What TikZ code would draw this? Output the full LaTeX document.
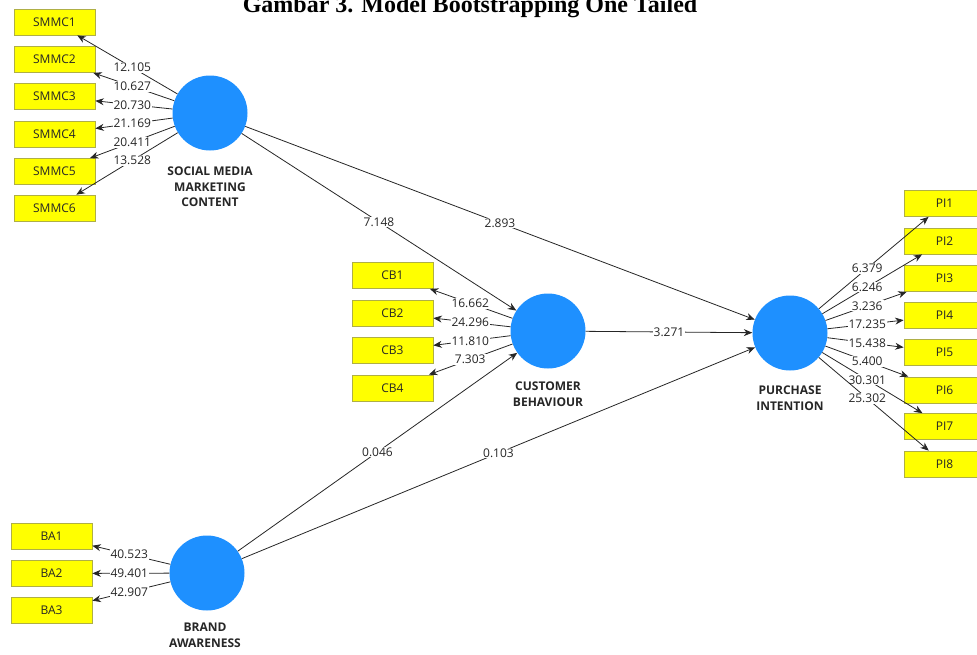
\documentclass[tikz,border=0pt]{standalone}
\usepackage{fontspec}
\setmainfont{Open Sans}
\newfontfamily\titlefont{Liberation Serif}
\usetikzlibrary{calc,arrows.meta}

\definecolor{lvblue}{RGB}{30,144,255}
\definecolor{indyellow}{RGB}{255,255,0}
\definecolor{indedge}{RGB}{175,175,70}

\begin{document}
\begin{tikzpicture}[x=1pt,y=-1pt,
  latent/.style={circle,fill=lvblue,minimum size=75pt,inner sep=0pt},
  indicator/.style={rectangle,fill=indyellow,draw=indedge,line width=0.7pt,
    minimum width=81pt,minimum height=26pt,inner sep=0pt,
    font=\fontsize{12}{12}\selectfont,text=black!85},
  lvname/.style={align=center,inner sep=0pt,anchor=north,
    font=\bfseries\fontsize{12}{15.5}\selectfont,text=black!85},
  link/.style={draw=black!85,line width=0.8pt,-{Stealth[length=8.5pt,width=7pt]}},
  coef/.style={fill=white,inner sep=1pt,font=\fontsize{12}{12}\selectfont,text=black!85},
]
\useasboundingbox (0,0) rectangle (977,654);

% caption
\node[anchor=base,font=\titlefont\bfseries\fontsize{24}{26}\selectfont] (title) at (470,12)
  {Gambar 3. Model Bootstrapping One Tailed};

% latent variables
\node[latent] (smmc) at (210,113) {};
\node[latent] (cb)   at (548,331) {};
\node[latent] (pi)   at (790,333) {};
\node[latent] (ba)   at (207,573) {};

\node[lvname] (smmcname) at (210,167) {SOCIAL MEDIA\\MARKETING\\CONTENT};
\node[lvname] (cbname)   at (548,382) {CUSTOMER\\BEHAVIOUR};
\node[lvname] (piname)   at (790,386) {PURCHASE\\INTENTION};
\node[lvname] (baname)   at (205,623) {BRAND\\AWARENESS};

% indicators
\foreach \i/\y in {1/22,2/59.5,3/96.5,4/134,5/171.5,6/208}
  \node[indicator] (s\i) at (54.5,\y) {SMMC\i};
\foreach \i/\y in {1/275.5,2/313.5,3/350.5,4/388}
  \node[indicator] (c\i) at (392.5,\y) {CB\i};
\foreach \i/\y in {1/203.5,2/241,3/278.5,4/315.5,5/352.5,6/390,7/426.5,8/464}
  \node[indicator] (p\i) at (944.5,\y) {PI\i};
\foreach \i/\y in {1/536,2/573.5,3/610.5}
  \node[indicator] (b\i) at (51.5,\y) {BA\i};

% outer model loadings
\foreach \i/\v in {1/12.105,2/10.627,3/20.730,4/21.169,5/20.411,6/13.528}{
  \draw[link] (smmc) -- (s\i);
  \node[coef] at ($(smmc)!.5!(s\i)$) {\v};
}
\foreach \i/\v in {1/16.662,2/24.296,3/11.810,4/7.303}{
  \draw[link] (cb) -- (c\i);
  \node[coef] at ($(cb)!.5!(c\i)$) {\v};
}
\foreach \i/\v in {1/6.379,2/6.246,3/3.236,4/17.235,5/15.438,6/5.400,7/30.301,8/25.302}{
  \draw[link] (pi) -- (p\i);
  \node[coef] at ($(pi)!.5!(p\i)$) {\v};
}
\foreach \i/\v in {1/40.523,2/49.401,3/42.907}{
  \draw[link] (ba) -- (b\i);
  \node[coef] at ($(ba)!.5!(b\i)$) {\v};
}

% inner model paths
\foreach \a/\b/\v in {smmc/cb/7.148,smmc/pi/2.893,cb/pi/3.271,ba/cb/0.046,ba/pi/0.103}{
  \draw[link] (\a) -- (\b);
  \node[coef] at ($(\a)!.5!(\b)$) {\v};
}
\end{tikzpicture}
\end{document}
